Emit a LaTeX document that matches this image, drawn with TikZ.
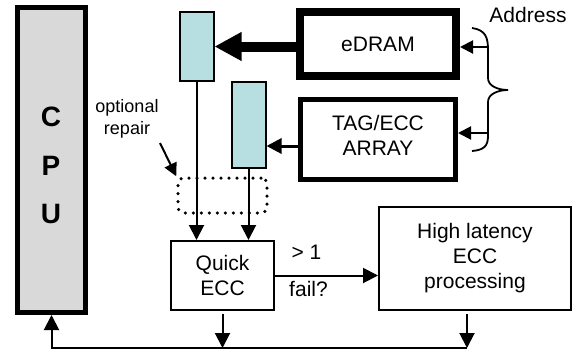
\documentclass[tikz,border=0pt]{standalone}
\usepackage{fontspec}
\setmainfont{Liberation Sans}
\usetikzlibrary{arrows.meta}
\definecolor{cpugray}{RGB}{217,217,217}
\definecolor{bufblue}{RGB}{183,222,225}
\begin{document}
\begin{tikzpicture}[x=1pt,y=-1pt,
  txt/.style={font=\fontsize{21}{25}\selectfont, align=center, inner sep=0pt},
  box/.style={draw, line width=2pt, inner sep=0pt, txt},
  buffer/.style={draw, line width=2pt, fill=bufblue, minimum width=34pt, inner sep=0pt},
  arr/.style={line width=2pt, -{Triangle[length=15pt,width=15pt]}},
  sarr/.style={line width=2pt, -{Triangle[length=13pt,width=13pt]}},
]
\useasboundingbox (0,0) rectangle (576,351);

% processor
\node[draw, line width=5pt, fill=cpugray, minimum width=68pt, minimum height=305pt, inner sep=0pt] (cpu) at (51.5,160) {};
\node[font=\bfseries\fontsize{28}{48.5}\selectfont, align=center, inner sep=0pt] (cpulbl) at (51,165.5) {C\\P\\U};

% read buffers
\node[buffer, minimum height=69pt] (buf1) at (196.5,46.5) {};
\node[buffer, minimum height=86pt] (buf2) at (248.5,124.5) {};

% memory arrays
\node[box, line width=8pt, minimum width=156pt, minimum height=64pt] (edram) at (378,44) {eDRAM};
\node[draw, line width=5pt, inner sep=0pt, minimum width=155pt, minimum height=80pt] (tag) at (378,139.5) {};
\node[txt] (taglbl) at (378,135) {TAG/ECC\\ARRAY};

% ECC logic
\node[box, minimum width=103pt, minimum height=69pt] (qecc) at (222.5,275.5) {Quick\\ECC};
\node[box, minimum width=192pt, minimum height=103pt] (hecc) at (475,258.5) {High latency\\ECC\\processing};

% optional repair stage
\node[draw, line width=3.5pt, dash pattern=on 0pt off 8pt, line cap=round, rounded corners=6pt,
      minimum width=89pt, minimum height=35pt, inner sep=0pt] (rep) at (222.5,195.5) {};
\node[txt, font=\fontsize{18}{22}\selectfont] (optlbl) at (127,119) {optional\\repair};
\coordinate (optarr) at (160,143);
\draw[sarr] (optarr) -- (rep.north west);

% data paths
\draw[line width=10pt, -{Triangle[length=27pt,width=27pt]}] (buf1.east -| edram.west) -- (buf1.east);
\draw[line width=3pt, -{Triangle[length=15pt,width=15pt]}] ([yshift=-6.5pt]tag.west) -- ([yshift=-6.5pt]tag.west -| buf2.east);
\draw[arr] (buf1.south) -- (buf1.south |- qecc.north);
\draw[arr] (buf2.south) -- (buf2.south |- qecc.north);
\draw[arr] (qecc.east) -- (qecc.east -| hecc.west);
\node[txt] (gt1) at (306.5,252) {> 1};
\node[txt] (fail) at (308.5,289) {fail?};

% address brace
\draw[line width=1.8pt] (472,28) .. controls (486,30) and (488,38) .. (488,50)
  -- (488,78) .. controls (488,86) and (498,90) .. (508,90)
  .. controls (498,90) and (488,94) .. (488,102)
  -- (488,136) .. controls (488,146) and (484,150) .. (472,151);
\node[txt] (addr) at (528,15) {Address};
\coordinate (ab1) at (488,47);
\coordinate (ab2) at (488,133);
\draw[sarr] (ab1) -- (ab1 -| edram.east);
\draw[sarr] (ab2) -- (ab2 -| tag.east);

% result bus back to the processor
\coordinate (bus) at (0,348);
\coordinate (qout) at (222.5,314);
\coordinate (hout) at (467,314);
\draw[arr] (qout) -- (qout |- bus);
\draw[arr] (hout) -- (hout |- bus);
\draw[arr] (hout |- bus) -- (cpu.south |- bus) -- (cpu.south);
\end{tikzpicture}
\end{document}
